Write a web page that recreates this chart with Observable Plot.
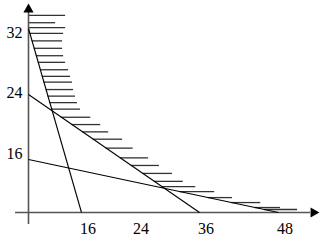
<!DOCTYPE html>
<html><head><meta charset="utf-8">
<script src="https://cdn.jsdelivr.net/npm/d3@7"></script>
<script src="https://cdn.jsdelivr.net/npm/@observablehq/plot@0.6"></script>
<style>html,body{margin:0;padding:0;background:#fff}</style>
</head><body><div id="chart"></div>
<script>
// Constraint lines: each joins (0, yIntercept) to (xIntercept, 0)
const yIntercepts = [32, 24, 16];
const xIntercepts = [16, 36, 48];
// Tick labels
const xTickLabels = [16, 24, 36, 48];
const yTickLabels = [32, 24, 16];
// Hatch strokes on the feasible side: level (y) and right end (x)
const hatchY   = [33.6, 32.7, 32.1, 31.4, 30.5, 29.6, 28.7, 27.9, 27.0, 26.2, 25.5, 24.6, 23.8, 23.0, 22.2, 21.2, 20.3, 19.4, 18.5, 17.4, 16.2, 14.2, 11.8, 9.4, 7.8, 6.3, 4.5, 3.0, 1.5, 0.9];
const hatchEnd = [11.2, 8.2, 11.2, 10.6, 10.3, 10.3, 10.6, 11.2, 12.1, 12.7, 13.3, 13.6, 14.2, 14.8, 15.7, 17.4, 18.9, 20.1, 22.2, 23.8, 26.6, 28.6, 31.0, 33.0, 35.3, 38.3, 41.0, 45.3, 48.3, 50.9];

// Schematic (piecewise) scales of the drawing
const sx = d3.scaleLinear().domain([0, 16, 24, 36, 48]).range([28, 81, 134, 199, 278]);
const sy = d3.scaleLinear().domain([0, 16, 24, 32]).range([212, 159, 94, 28]);

const constraints = yIntercepts.map((b, i) => ({b, a: xIntercepts[i]}));
function boundaryX(y) {
  const py = sy(y);
  let px = sx(0);
  for (const c of constraints) {
    const x0 = sx(0), y0 = sy(c.b), x1 = sx(c.a), y1 = sy(0);
    if (py >= y0 && py <= y1) px = Math.max(px, x0 + (x1 - x0) * (py - y0) / (y1 - y0));
  }
  return sx.invert(px);
}
const hatches = hatchY.map((y, i) => ({y, x1: boundaryX(y), x2: hatchEnd[i]}));

const font = "Liberation Serif, Times New Roman, serif";
const yLabelShift = [4, -2, -6];
const axisColor = "#555";

const chart = Plot.plot({
  width: 334,
  height: 252,
  marginLeft: 15,
  marginRight: 24,
  marginTop: 9,
  marginBottom: 28,
  style: {background: "#fff", fontFamily: font, fontSize: "16px", color: "#000"},
  x: {type: "identity", axis: null},
  y: {type: "identity", axis: null},
  marks: [
    Plot.ruleY(hatches, {y: d => sy(d.y), x1: d => sx(d.x1), x2: d => sx(d.x2), stroke: "#333", strokeWidth: 1.3}),
    Plot.ruleY([0], {y: d => sy(d), stroke: axisColor, strokeWidth: 1.6}),
    Plot.ruleX([0], {x: d => sx(d), stroke: axisColor, strokeWidth: 1.6}),
    Plot.dot([0], {y: d => sy(d), frameAnchor: "right", dx: 3, symbol: "triangle", rotate: 90, r: 3.8, fill: "#000", stroke: "none"}),
    Plot.dot([0], {x: d => sx(d), frameAnchor: "top", symbol: "triangle", r: 3.8, fill: "#000", stroke: "none"}),
    Plot.link(constraints, {x1: () => sx(0), y1: d => sy(d.b), x2: d => sx(d.a), y2: () => sy(0), stroke: "#000", strokeWidth: 1.1}),
    Plot.text(xTickLabels, {x: d => sx(d), frameAnchor: "bottom", dy: 9, dx: 6.5, fontSize: 16, fontFamily: font, fill: "#000"}),
    ...yTickLabels.map((t, i) => Plot.text([t], {y: d => sy(d), frameAnchor: "left", textAnchor: "end", dx: 7, dy: yLabelShift[i], fontSize: 16, fontFamily: font, fill: "#000"}))
  ]
});
document.getElementById("chart").appendChild(chart);
</script>
</body></html>
